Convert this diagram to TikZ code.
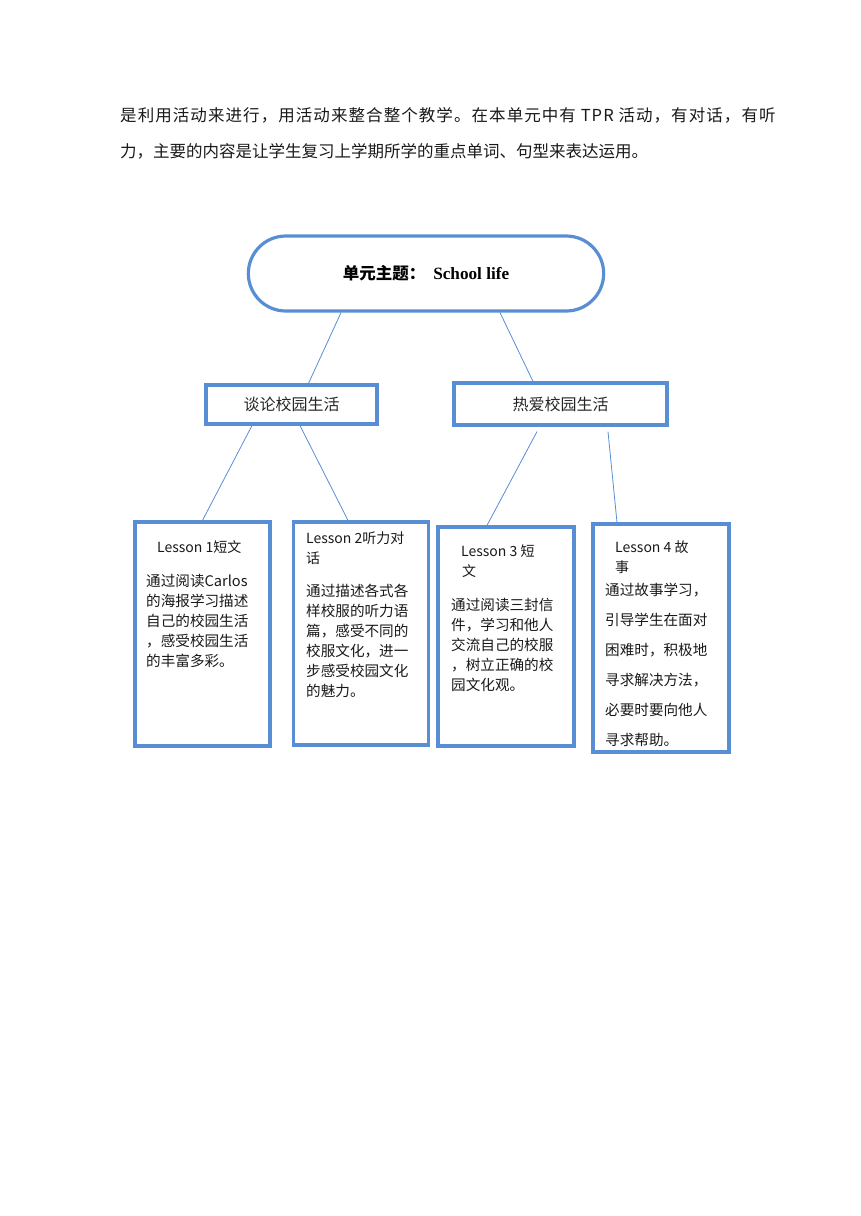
\documentclass[tikz,border=0pt]{standalone}
\usepackage{fontspec}
\setmainfont{Noto Sans CJK SC}
\newfontfamily\timesfont{Liberation Serif}
\usetikzlibrary{positioning}
\usetikzlibrary{shapes.misc}
\usetikzlibrary{calc}
\definecolor{boxblue}{RGB}{88,142,212}

\begin{document}
\begin{tikzpicture}[x=1pt,y=-1pt,
	unit node/.style={rounded rectangle,draw=boxblue,line width=3.2pt,minimum width=362,minimum height=75,font=\fontsize{16.5}{20}\selectfont},
	topic node/.style={rectangle,draw=boxblue,line width=3.2pt,font=\fontsize{16}{20}\selectfont,text=black!85},
	lesson node/.style={rectangle,draw=boxblue,line width=3.2pt,minimum width=135},
	text node/.style={anchor=north west,inner sep=0pt,align=left,text=black!90,font=\fontsize{14.6}{20}\selectfont},
	para/.style={anchor=west,inner sep=0pt,text=black!90,font=\fontsize{16.5}{20}\selectfont},
	link/.style={draw=boxblue,line width=0.8pt}]
	
	\useasboundingbox (0,0) rectangle (860,1216);
	
	% paragraph above the chart
	\node[para] (line1) at (120,115) {\addfontfeature{LetterSpace=6.5}是利用活动来进行，用活动来整合整个教学。在本单元中有 TPR 活动，有对话，有听};
	\node[para] (line2) at (120,151) {力，主要的内容是让学生复习上学期所学的重点单词、句型来表达运用。};
	
	\node[unit node] (unit) at (426,273.5) {\textbf{单元主题：}\hspace{8pt}{\timesfont\bfseries\fontsize{17.2}{20}\selectfont School life}};
	\node[topic node, minimum width=171, minimum height=39] (talk) at (291.5,404.5) {谈论校园生活};
	\node[topic node, minimum width=213, minimum height=42] (love) at (560.5,404) {热爱校园生活};
	
	\node[lesson node, minimum height=224] (l1) at (202.5,634) {};
	\node[lesson node, minimum height=223] (l2) at (361,633.5) {};
	\node[lesson node, minimum width=136, minimum height=219] (l3) at (506,636.5) {};
	\node[lesson node, minimum width=136, minimum height=228] (l4) at (661,638) {};
	
	% titles and texts of the lessons
	\node[text node, font=\fontsize{14}{20}\selectfont] (t1) at (157,540) {Lesson 1短文};
	\node[text node, font=\fontsize{14}{20}\selectfont] (t2) at (306,532) {Lesson 2听力对\\话};
	\node[text node, font=\fontsize{14}{20}\selectfont] (t3) at (461,545) {Lesson 3 短\\\hspace*{1pt}文};
	\node[text node, font=\fontsize{14}{20}\selectfont] (t4) at (615,541) {Lesson 4 故\\事};
	
	\node[text node] (b1) at (146,574) {通过阅读Carlos\\的海报学习描述\\自己的校园生活\\，感受校园生活\\的丰富多彩。};
	\node[text node] (b2) at (306,584) {通过描述各式各\\样校服的听力语\\篇，感受不同的\\校服文化，进一\\步感受校园文化\\的魅力。};
	\node[text node] (b3) at (451,598) {通过阅读三封信\\件，学习和他人\\交流自己的校服\\，树立正确的校\\园文化观。};
	\node[text node, font=\fontsize{14.6}{30}\selectfont] (b4) at (605,583) {通过故事学习，\\引导学生在面对\\困难时，积极地\\寻求解决方法，\\必要时要向他人\\寻求帮助。};
	
	% connectors
	\draw[link] ($(unit.south)+(-85,0)$) -- ($(talk.north)+(17,0)$);
	\draw[link] ($(unit.south)+(74,0)$) -- ($(love.north)+(-27.5,0)$);
	\draw[link] ($(talk.south)+(-39.5,0)$) -- (l1.north);
	\draw[link] ($(talk.south)+(8.5,0)$) -- ($(l2.north)+(-13,0)$);
	\draw[link] ($(love.south)+(-23.5,5)$) -- ($(l3.north)+(-19,0)$);
	\draw[link] ($(love.south)+(47.5,5)$) -- ($(l4.north)+(-44,0)$);
\end{tikzpicture}
\end{document}
